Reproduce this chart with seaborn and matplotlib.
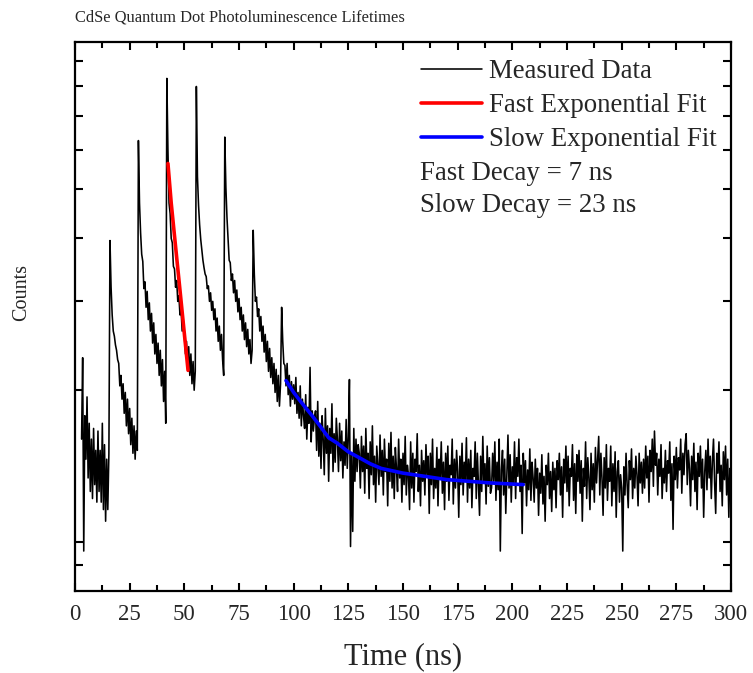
import numpy as np
import pandas as pd
import matplotlib
matplotlib.use("Agg")
import matplotlib.pyplot as plt
import seaborn as sns
from matplotlib.ticker import MultipleLocator, NullLocator, FixedLocator

# ---------------- data ----------------
t_start = 3.0      # ns, first sample
t_step = 0.5       # ns, sampling interval

counts = [
    # 3.0 - 9.5 ns
    160, 232, 96, 178, 146, 194, 134, 172, 126, 160, 122, 168, 130, 152,
    # 10 - 19.5
    120, 166, 126, 152, 120, 172, 116, 156, 110, 146, 116, 150, 396, 320, 282, 262, 256, 246, 240, 230,
    # 20 - 29.5
    226, 204, 214, 192, 206, 180, 198, 170, 192, 164, 184, 156, 176, 150, 170, 146, 166, 152, 625, 470,
    # 30 - 39.5
    410, 372, 360, 318, 328, 292, 314, 276, 298, 262, 284, 248, 272, 236, 258, 226, 248, 214, 240, 204,
    # 40 - 49.5
    230, 190, 218, 172, 830, 600, 470, 448, 400, 392, 352, 348, 320, 330, 300, 308, 282, 290, 262, 276,
    # 50 - 59.5
    258, 236, 250, 222, 244, 214, 236, 206, 228, 200, 218, 800, 530, 465, 425, 398, 380, 362, 350, 340,
    # 60 - 69.5
    336, 318, 322, 300, 312, 288, 300, 276, 290, 262, 278, 250, 268, 240, 258, 230, 214, 635, 505, 440,
    # 70 - 79.5
    398, 362, 358, 330, 340, 312, 330, 300, 316, 286, 304, 276, 292, 262, 282, 252, 272, 244, 264, 236,
    # 80 - 89.5
    252, 226, 240, 415, 340, 300, 306, 280, 290, 262, 280, 250, 268, 238, 258, 228, 250, 218, 242, 212,
    # 90 - 99.5
    232, 206, 226, 198, 220, 190, 214, 186, 206, 292, 250, 226, 224, 204, 226, 196, 214, 186, 208, 192,
    # 100 - 109.5
    205, 188, 212, 180, 198, 176, 204, 170, 192, 178, 168, 196, 160, 185, 172, 222, 158, 182, 166, 176,
    # 110 - 119.5
    182, 152, 190, 148, 172, 140, 178, 160, 136, 184, 150, 170, 132, 168, 150, 188, 138, 164, 144, 176,
    # 120 - 129.5
    160, 138, 172, 145, 166, 134, 158, 142, 175, 140, 162, 210, 98, 150, 105, 168, 132, 160, 138, 156,
    # 130 - 139.5
    150, 128, 162, 138, 155, 125, 168, 140, 150, 122, 158, 136, 170, 130, 148, 120, 155, 142, 130, 163,
    # 140 - 149.5
    135, 152, 124, 160, 138, 146, 118, 157, 132, 165, 128, 148, 122, 154, 140, 126, 160, 134, 146, 120,
    # 150 - 159.5
    150, 130, 162, 124, 142, 136, 116, 158, 128, 150, 120, 146, 138, 164, 126, 142, 118, 152, 132, 145,
    # 160 - 169.5
    124, 156, 136, 148, 114, 150, 130, 160, 122, 140, 128, 154, 118, 146, 134, 158, 125, 144, 116, 150,
    # 170 - 179.5
    132, 155, 121, 142, 136, 160, 119, 146, 128, 152, 138, 112, 148, 130, 157, 124, 144, 133, 161, 120,
    # 180 - 189.5
    146, 128, 152, 117, 140, 135, 158, 122, 150, 130, 113, 148, 126, 162, 131, 143, 119, 155, 129, 147,
    # 190 - 199.5
    125, 128, 150, 132, 158, 121, 144, 127, 160, 96, 139, 152, 124, 146, 114, 137, 163, 128, 149, 120,
    # 200 - 209.5
    141, 130, 158, 122, 147, 135, 160, 126, 142, 104, 150, 131, 145, 118, 139, 127, 153, 121, 144, 134,
    # 210 - 219.5
    120, 146, 128, 140, 113, 137, 125, 149, 119, 135, 110, 142, 130, 150, 122, 138, 115, 144, 127, 140,
    # 220 - 229.5
    117, 145, 133, 150, 124, 141, 112, 146, 131, 155, 126, 148, 118, 140, 135, 156, 121, 143, 114, 149,
    # 230 - 239.5
    132, 152, 125, 145, 110, 140, 129, 158, 122, 147, 134, 116, 150, 127, 143, 120, 154, 131, 146, 162,
    # 240 - 249.5
    124, 150, 134, 113, 147, 128, 156, 121, 140, 132, 155, 118, 143, 126, 151, 112, 138, 145, 120, 136,
    # 250 - 259.5
    128, 96, 141, 124, 150, 130, 117, 145, 133, 153, 122, 140, 128, 148, 136, 118, 150, 131, 144, 125,
    # 260 - 269.5
    146, 128, 155, 134, 148, 120, 152, 138, 160, 129, 166, 142, 150, 124, 146, 135, 156, 122, 140, 131,
    # 270 - 279.5
    152, 126, 145, 137, 158, 121, 143, 106, 148, 133, 154, 128, 147, 139, 160, 125, 150, 136, 156, 164,
    # 280 - 289.5
    130, 152, 140, 118, 148, 133, 157, 126, 144, 116, 150, 135, 155, 128, 146, 112, 138, 152, 127, 160,
    # 290 - 300
    134, 148, 122, 145, 160, 131, 114, 150, 137, 158, 126, 142, 118, 151, 133, 155, 124, 146, 112, 140, 132,
]
time_ns = t_start + t_step * np.arange(len(counts))

fast_fit_t = [42.5, 44.0, 46.0, 48.0, 50.0, 51.7]
fast_fit_counts = [563, 470, 385, 316, 259, 219]

slow_fit_t = [96.5, 100, 104, 108, 112, 116, 120, 125, 130, 135, 140, 150, 160, 170, 180, 190, 205]
slow_fit_counts = [209, 198, 188, 179, 170, 161, 157, 151, 147, 143, 140, 137, 135, 133, 132, 131, 130]

x_ticks = [0, 25, 50, 75, 100, 125, 150, 175, 200, 225, 250, 275, 300]
y_ticks = [90, 100, 200, 300, 400, 500, 600, 700, 800, 900]

title = "CdSe Quantum Dot Photoluminescence Lifetimes"
labels = ["Measured Data", "Fast Exponential Fit", "Slow Exponential Fit"]
notes = ["Fast Decay = 7 ns", "Slow Decay = 23 ns"]

# ---------------- plotting ----------------
sns.set_style("ticks")
plt.rcParams["font.family"] = ["Liberation Serif", "DejaVu Serif"]

W, H = 753, 673
fig = plt.figure(figsize=(W / 100, H / 100), dpi=100)
ax = fig.add_axes([75 / W, 1 - 591 / H, 656 / W, 549 / H])

df = pd.DataFrame({"Time": time_ns, "Counts": counts})
sns.lineplot(data=df, x="Time", y="Counts", ax=ax, color="black",
             linewidth=1.15, estimator=None, label=labels[0])
sns.lineplot(x=fast_fit_t, y=fast_fit_counts, ax=ax, color="#ff0000",
             linewidth=2.6, estimator=None, label=labels[1])
sns.lineplot(x=slow_fit_t, y=slow_fit_counts, ax=ax, color="#0000ff",
             linewidth=2.6, estimator=None, label=labels[2])

ax.set_yscale("log")
ax.set_xlim(0, 300)
ax.set_ylim(80, 980)

ax.xaxis.set_major_locator(FixedLocator(x_ticks))
ax.xaxis.set_minor_locator(MultipleLocator(12.5))
ax.set_xticklabels([str(v) for v in x_ticks])
ax.yaxis.set_major_locator(FixedLocator(y_ticks))
ax.yaxis.set_minor_locator(NullLocator())
ax.set_yticklabels([])

for s in ax.spines.values():
    s.set_visible(True)
    s.set_linewidth(1.6)
    s.set_color("black")

ax.tick_params(which="both", direction="in", top=True, right=True,
               width=1.5, color="black")
ax.tick_params(which="major", length=6)
ax.tick_params(which="minor", length=4)
ax.tick_params(axis="x", which="major", labelsize=16.5, pad=9)

ax.set_xlabel("Time (ns)", fontsize=22, labelpad=13)
ax.set_ylabel("Counts", fontsize=14.5)
ax.yaxis.set_label_coords(-0.067, 0.543)

leg = ax.legend(loc="upper left", bbox_to_anchor=(421 / W, 1 - 59.5 / H),
                bbox_transform=fig.transFigure, frameon=False, fontsize=19.4,
                handlelength=2.26, handletextpad=0.26, labelspacing=0.33,
                borderpad=0, borderaxespad=0)

fig.text(420 / W, 1 - 174 / H, notes[0], fontsize=19.4, va="center", ha="left")
fig.text(420 / W, 1 - 205 / H, notes[1], fontsize=19.4, va="center", ha="left")
fig.text(75 / W, 1 - 18 / H, title, fontsize=11.85, va="center", ha="left")

fig.savefig("out.png", dpi=100)
